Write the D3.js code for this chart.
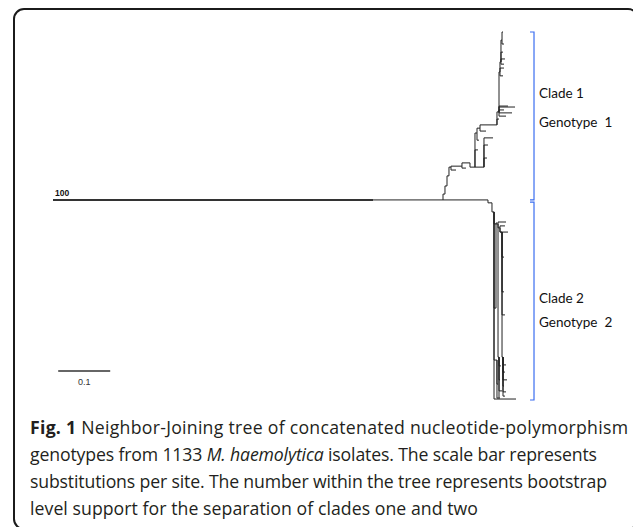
<!DOCTYPE html>
<html>
<head>
<meta charset="utf-8">
<script src="https://cdn.jsdelivr.net/npm/d3@7"></script>
<style>
  body { margin: 0; background: #fff; }
  text { white-space: pre; }
</style>
</head>
<body>
<svg id="chart"></svg>
<script>
// tree nodes: [id, parent, distance from root (substitutions/site), row in isolate order]
const rootPath = [
  ["R", null, 0, 517],
  ["r1", "R", 0.6154, 517],
  ["A", "r1", 0.75, 517],
];

const clade1Nodes = [
  ["c1", "A", 0.7538, 499],
  ["c2", "c1", 0.7577, 474],
  ["c3", "c2", 0.7615, 443],
  ["c4", "c3", 0.7654, 416],
  ["c4a", "c4", 0.775, 425],
  ["c5", "c4", 0.7865, 413],
  ["c5a", "c5", 0.7942, 419],
  ["c6", "c5", 0.8019, 403],
  ["c7", "c6", 0.8115, 416],
  ["c7a", "c7", 0.8173, 363],
  ["c8", "c7", 0.8154, 311],
  ["c8a", "c8", 0.8192, 333],
  ["c9", "c7", 0.8288, 416],
  ["c9a", "c9", 0.8462, 326],
  ["c9b", "c9", 0.8365, 348],
  ["c9c", "c9", 0.8346, 388],
  ["c10", "c8", 0.8212, 296],
  ["c10a", "c10", 0.8327, 305],
  ["c11", "c10", 0.8538, 286],
  ["c11a", "c11", 0.8577, 268],
  ["d1", "c11", 0.8577, 246],
  ["d1a", "d1", 0.875, 228],
  ["d1b", "d1", 0.8885, 231],
  ["d1c", "d1", 0.8827, 249],
  ["d1d", "d1", 0.8712, 259],
  ["d1e", "d1", 0.8673, 240],
  ["d2", "d1", 0.8596, 123],
  ["d2a", "d2", 0.8673, 111],
  ["d2b", "d2", 0.8654, 135],
  ["d3", "d2", 0.8615, 92],
  ["d3a", "d3", 0.8692, 83],
  ["d3b", "d3", 0.8673, 99],
  ["d3c", "d3", 0.8654, 62],
  ["d4", "d3", 0.8635, 25],
  ["d4a", "d4", 0.8654, 0],
  ["d4b", "d4", 0.8673, 37],
];

const clade2Nodes = [
  ["B", "A", 0.8365, 517],
  ["b1", "B", 0.8442, 526],
  ["b2", "b1", 0.8481, 554],
  ["bEnd", "b2", 0.8904, 1130],
  ["g1", "b2", 0.8519, 850],
  ["g1a", "g1", 0.8538, 588],
  ["b3", "b2", 0.8558, 591],
  ["b3a", "b3", 0.8712, 585],
  ["b4", "b3", 0.8596, 603],
  ["b4a", "b4", 0.875, 616],
  ["b4b", "b4", 0.8692, 597],
  ["b5", "b4", 0.8635, 616],
  ["b5a", "b5", 0.8673, 693],
  ["b5b", "b5", 0.8673, 800],
  ["b5c", "b5", 0.8692, 871],
  ["b6", "b5", 0.8654, 1001],
  ["b6a", "b6", 0.8712, 1025],
  ["b6b", "b6", 0.8692, 1047],
  ["b6c", "b6", 0.8731, 1071],
  ["b6d", "b6", 0.8673, 1090],
  ["b6e", "b6", 0.8712, 1108],
  ["b6f", "b6", 0.8692, 1121],
  ["b8", "b3", 0.8577, 1001],
  ["b8a", "b8", 0.8615, 1028],
  ["b8b", "b8", 0.8596, 1071],
  ["b8c", "b8", 0.8635, 1105],
  ["b8d", "b8", 0.8596, 1127],
  ["b9", "b2", 0.8538, 1010],
  ["b9a", "b9", 0.8577, 1127],
  ["b9b", "b9", 0.8558, 1084],
];

const isolateCount = 1133;
const bootstrapNode = "r1";
const bootstrapValue = 100;

const cladeNames = ["Clade 1", "Clade 2"];
const genotypeNames = ["Genotype  1", "Genotype  2"];
const cladeRowStart = [0, 524];
const cladeRowEnd = [517, 1133];

const scaleBarLength = 0.1;
const scaleBarLabel = "0.1";

const captionLines = [
  [["Fig. 1", "bold"], [" Neighbor-Joining tree of concatenated nucleotide-polymorphism", ""]],
  [["genotypes from 1133 ", ""], ["M. haemolytica", "italic"], [" isolates. The scale bar represents", ""]],
  [["substitutions per site. The number within the tree represents bootstrap", ""]],
  [["level support for the separation of clades one and two", ""]],
];
const captionLineWidths = [598, 567, 577, 448];

const width = 633, height = 527;
const svg = d3.select("#chart").attr("width", width).attr("height", height);

// frame
svg.append("rect")
  .attr("x", 14).attr("y", 9)
  .attr("width", 624).attr("height", 520)
  .attr("rx", 10)
  .attr("fill", "#fff")
  .attr("stroke", "#1b1b1b")
  .attr("stroke-width", 2);

const xScale = d3.scaleLinear().domain([0, 1]).range([53, 573]);
const yScale = d3.scaleLinear().domain([0, isolateCount]).range([32, 400]);

const table = [...rootPath, ...clade1Nodes, ...clade2Nodes].map(([id, parent, dist, row]) => ({ id, parent, dist, row }));
const root = d3.stratify().id(d => d.id).parentId(d => d.parent)(table);

const elbow = d3.line()
  .x(d => xScale(d.dist))
  .y(d => yScale(d.row))
  .curve(d3.curveStepBefore);

const tree = svg.append("g").attr("fill", "none");

tree.selectAll("path")
  .data(root.links())
  .join("path")
  .attr("d", l => elbow([l.source.data, l.target.data]))
  .attr("stroke", l => l.source === root ? "#333" : "#222")
  .attr("stroke-width", l => l.source === root ? 2 : 1);

// bootstrap support
const bsNode = root.find(n => n.id === bootstrapNode);
svg.append("text")
  .attr("x", xScale(bsNode.parent.data.dist) + 2)
  .attr("y", yScale(bsNode.data.row) - 4)
  .attr("font-family", "Liberation Sans, Arial, sans-serif")
  .attr("font-size", 8.5)
  .attr("font-weight", "bold")
  .attr("fill", "#111")
  .text(bootstrapValue);

// clade brackets
const maxDist = d3.max(root.leaves(), n => n.data.dist);
const bx = xScale(maxDist) + 18;
const labelOffsets = [[-18, 11], [2, 26]];
const brackets = svg.append("g");
cladeNames.forEach((name, i) => {
  const y0 = yScale(cladeRowStart[i]), y1 = yScale(cladeRowEnd[i]);
  brackets.append("path")
    .attr("d", `M${bx - 4},${y0}H${bx}V${y1}H${bx - 4}`)
    .attr("fill", "none")
    .attr("stroke", "#3a6df0")
    .attr("stroke-width", 1.2);
  const ym = (y0 + y1) / 2;
  brackets.append("text")
    .attr("x", bx + 5)
    .attr("y", ym + labelOffsets[i][0])
    .attr("font-family", "Lato, sans-serif")
    .attr("font-size", 13.5)
    .attr("fill", "#111")
    .text(name);
  brackets.append("text")
    .attr("x", bx + 5)
    .attr("y", ym + labelOffsets[i][1])
    .attr("font-family", "Lato, sans-serif")
    .attr("font-size", 13.5)
    .attr("fill", "#111")
    .text(genotypeNames[i]);
});

// scale bar
const sbStart = 0.01, sbRow = 1044;
svg.append("line")
  .attr("x1", xScale(sbStart)).attr("x2", xScale(sbStart + scaleBarLength))
  .attr("y1", yScale(sbRow)).attr("y2", yScale(sbRow))
  .attr("stroke", "#333").attr("stroke-width", 1.5);
svg.append("text")
  .attr("x", xScale(sbStart + scaleBarLength / 2))
  .attr("y", yScale(sbRow) + 14)
  .attr("text-anchor", "middle")
  .attr("font-family", "Liberation Sans, Arial, sans-serif")
  .attr("font-size", 9)
  .attr("fill", "#333")
  .text(scaleBarLabel);

// caption: one text per line, font size fitted to the line widths,
// leftover difference taken up by letter spacing
const caption = svg.append("g")
  .attr("font-family", "Open Sans, sans-serif")
  .attr("font-size", 16)
  .attr("fill", "#231f20");
const lines = captionLines.map((parts, i) => {
  const line = caption.append("text").attr("x", 30).attr("y", 434 + i * 27);
  parts.forEach(([str, style]) => {
    const t = line.append("tspan").text(str);
    if (style === "bold") t.attr("font-weight", "bold");
    if (style === "italic") t.attr("font-style", "italic");
  });
  return line;
});
const fitSize = d3.mean(lines, (line, i) => 16 * captionLineWidths[i] / line.node().getComputedTextLength());
caption.attr("font-size", fitSize);
lines.forEach((line, i) => {
  line.attr("textLength", captionLineWidths[i]).attr("lengthAdjust", "spacing");
});
</script>
</body>
</html>
